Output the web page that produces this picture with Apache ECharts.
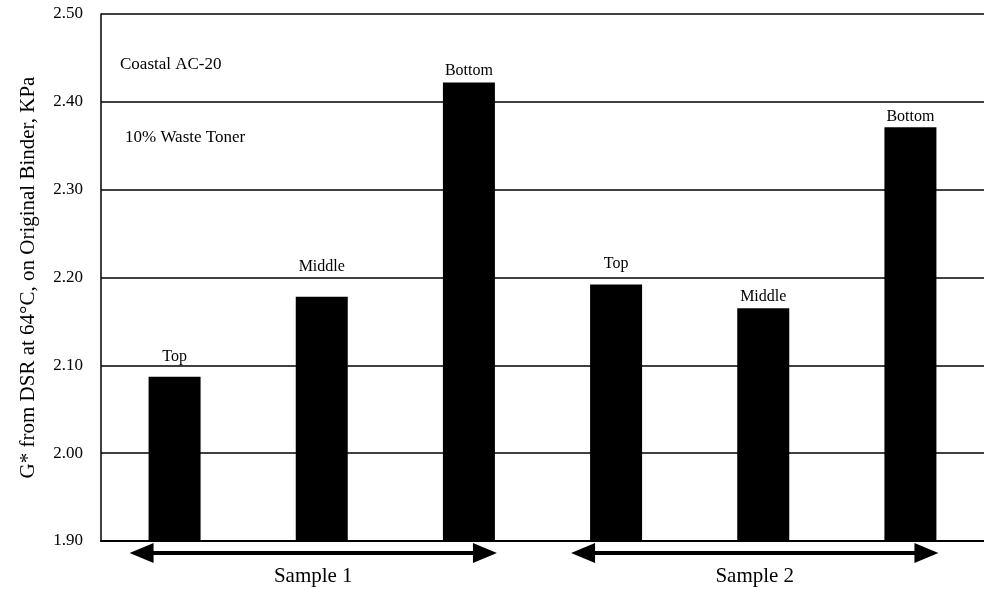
<!DOCTYPE html>
<html>
<head>
<meta charset="utf-8">
<script src="https://cdn.jsdelivr.net/npm/echarts@6/dist/echarts.min.js"></script>
<style>
html,body{margin:0;padding:0;background:#fff;}
#chart{width:984px;height:590px;}
</style>
</head>
<body>
<div id="chart"></div>
<script>
// ---- data ----
var categories = ['Top', 'Middle', 'Bottom', 'Top', 'Middle', 'Bottom'];
var values = [2.087, 2.178, 2.422, 2.192, 2.165, 2.371];
var labelGaps = [12, 22, 4, 13, 3, 3];
var groups = ['Sample 1', 'Sample 2'];
var groupRanges = [[0, 2], [3, 5]];
var yTicks = [1.9, 2.0, 2.1, 2.2, 2.3, 2.4, 2.5];
var notes = ['Coastal AC-20', '10% Waste Toner'];
var yTitle = 'G* from DSR at 64\u00B0C, on Original Binder, KPa';

var FONT = '"Liberation Serif", "Times New Roman", serif';
var chart = echarts.init(document.getElementById('chart'), null, {renderer: 'canvas'});

var seriesData = values.map(function (v, i) {
  return {value: v, label: {distance: labelGaps[i]}};
});

chart.setOption({
  backgroundColor: '#ffffff',
  animation: false,
  grid: {left: 101, right: 0, top: 14, bottom: 49},
  xAxis: {
    type: 'category',
    data: categories,
    boundaryGap: true,
    axisLine: {show: true, lineStyle: {color: '#000', width: 2}},
    axisTick: {show: false},
    axisLabel: {show: false},
    splitLine: {show: false}
  },
  yAxis: {
    type: 'value',
    min: yTicks[0],
    max: yTicks[yTicks.length - 1],
    interval: 0.1,
    name: yTitle,
    nameLocation: 'middle',
    nameGap: 62,
    nameTextStyle: {fontFamily: FONT, fontSize: 21, color: '#000'},
    axisLine: {show: true, lineStyle: {color: '#000', width: 1.5}},
    axisTick: {show: false},
    axisLabel: {
      margin: 18,
      fontFamily: FONT, fontSize: 17, color: '#000',
      formatter: function (v) { return v.toFixed(2); }
    },
    splitLine: {show: true, lineStyle: {color: '#000', width: 1.5}}
  },
  series: [{
    type: 'bar',
    data: seriesData,
    barWidth: 52,
    itemStyle: {color: '#000'},
    label: {
      show: true,
      position: 'top',
      fontFamily: FONT,
      fontSize: 16,
      color: '#000',
      formatter: function (p) { return categories[p.dataIndex]; }
    }
  }]
});

// annotations tied to axis positions
var yBase = chart.convertToPixel({yAxisIndex: 0}, yTicks[0]);
var graphics = [];
groups.forEach(function (g, k) {
  var x0 = chart.convertToPixel({xAxisIndex: 0}, groupRanges[k][0]);
  var x1 = chart.convertToPixel({xAxisIndex: 0}, groupRanges[k][1]);
  var left = x0 - 45, right = x1 + 28;
  var ay = yBase + 12;
  graphics.push({
    type: 'line',
    shape: {x1: left + 20, y1: ay, x2: right - 20, y2: ay},
    style: {stroke: '#000', lineWidth: 4}
  });
  graphics.push({
    type: 'polygon',
    shape: {points: [[left, ay], [left + 24, ay - 10], [left + 24, ay + 10]]},
    style: {fill: '#000'}
  });
  graphics.push({
    type: 'polygon',
    shape: {points: [[right, ay], [right - 24, ay - 10], [right - 24, ay + 10]]},
    style: {fill: '#000'}
  });
  graphics.push({
    type: 'text',
    x: (left + right) / 2,
    y: ay + 23,
    style: {text: g, fontFamily: FONT, fontSize: 21, fill: '#000', align: 'center', verticalAlign: 'middle'}
  });
});
graphics.push({
  type: 'text', x: 120, y: 65,
  style: {text: notes[0], fontFamily: FONT, fontSize: 17, fill: '#000', align: 'left', verticalAlign: 'middle'}
});
graphics.push({
  type: 'text', x: 125, y: 138,
  style: {text: notes[1], fontFamily: FONT, fontSize: 17, fill: '#000', align: 'left', verticalAlign: 'middle'}
});
chart.setOption({graphic: graphics});
</script>
</body>
</html>
